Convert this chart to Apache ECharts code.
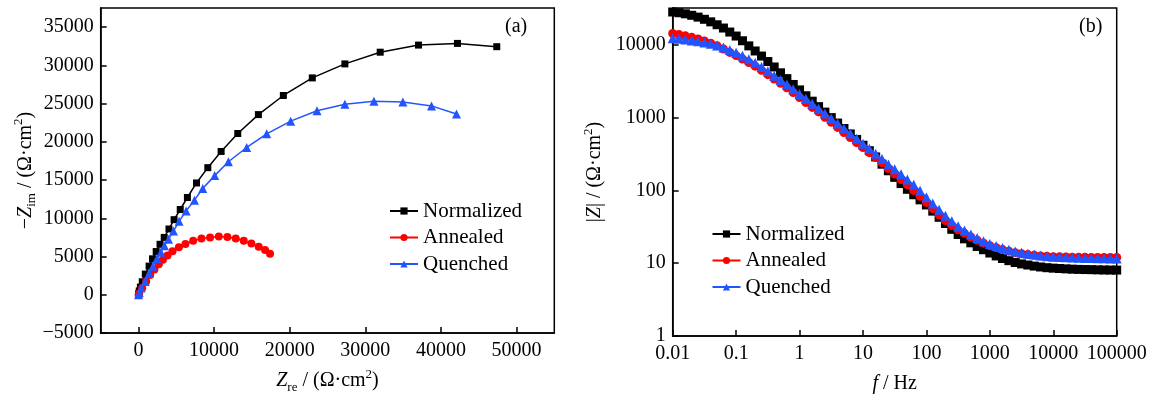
<!DOCTYPE html>
<html>
<head>
<meta charset="utf-8">
<script src="https://cdn.jsdelivr.net/npm/echarts@6/dist/echarts.min.js"></script>
<style>html,body{margin:0;padding:0;background:#fff}#c{width:1154px;height:399px}</style>
</head>
<body>
<div id="c"></div>
<script>
// ---------- Data: Nyquist (a) ----------
var seriesNames = ['Normalized', 'Annealed', 'Quenched'];
var normZre = [8, 30, 100, 250, 500, 900, 1400, 1850, 2340, 2850, 3400, 4030, 4710, 5520, 6470, 7670, 9170, 10930, 13130, 15860, 19160, 22990, 27300, 31970, 37040, 42190, 47390];
var normZim = [0, 150, 500, 1000, 1700, 2700, 3750, 4700, 5650, 6600, 7500, 8600, 9820, 11150, 12720, 14620, 16620, 18740, 21090, 23560, 26060, 28360, 30190, 31720, 32650, 32870, 32440];
var annZre = [10, 90, 490, 1020, 1550, 2110, 2690, 3220, 3840, 4500, 5340, 6210, 7230, 8330, 9470, 10620, 11760, 12860, 13920, 14930, 15900, 16740, 17400];
var annZim = [0, 170, 890, 1750, 2590, 3320, 3990, 4590, 5140, 5700, 6210, 6630, 7050, 7360, 7490, 7620, 7560, 7360, 7050, 6720, 6290, 5870, 5360];
var queZre = [10, 100, 360, 880, 1410, 1900, 2430, 2960, 3430, 3970, 4620, 5370, 6300, 7400, 8500, 10080, 11890, 14310, 16960, 20130, 23610, 27300, 31140, 34970, 38760, 42060];
var queZim = [0, 250, 890, 1750, 2810, 3740, 4720, 5570, 6420, 7270, 8330, 9600, 10970, 12370, 13900, 15580, 17390, 19260, 21050, 22700, 24070, 24920, 25300, 25210, 24700, 23640];

// ---------- Data: Bode |Z| (b) ----------
var freq = [
  0.01, 0.01259, 0.01585, 0.01995, 0.02512, 0.03162, 0.03981, 0.05012, 0.0631, 0.07943,
  0.1, 0.1259, 0.1585, 0.1995, 0.2512, 0.3162, 0.3981, 0.5012, 0.631, 0.7943,
  1, 1.259, 1.585, 1.995, 2.512, 3.162, 3.981, 5.012, 6.31, 7.943,
  10, 12.59, 15.85, 19.95, 25.12, 31.62, 39.81, 50.12, 63.1, 79.43,
  100, 125.9, 158.5, 199.5, 251.2, 316.2, 398.1, 501.2, 631, 794.3,
  1000, 1259, 1585, 1995, 2512, 3162, 3981, 5012, 6310, 7943,
  10000, 12590, 15850, 19950, 25120, 31620, 39810, 50120, 63100, 79430,
  100000];
var normZmod = [
  28200, 27540, 26610, 25410, 23990, 22390, 20650, 18840, 16980, 14960,
  13180, 11350, 9660, 8220, 7000, 5890, 4955, 4120, 3430, 2850,
  2400, 1995, 1680, 1413, 1189, 1000, 841, 708, 596, 501,
  417, 351, 288, 229, 186, 151, 124, 103.5, 87.1, 74.1,
  63.1, 51.9, 42.7, 35.1, 29.2, 24.8, 21.6, 19.05, 16.98, 15.31,
  13.8, 12.59, 11.61, 10.84, 10.23, 9.77, 9.44, 9.12, 8.87, 8.67,
  8.55, 8.45, 8.36, 8.28, 8.22, 8.18, 8.15, 8.11, 8.07, 8.05,
  8.04];
var annZmod = [
  14290, 13800, 13270, 12650, 12020, 11300, 10520, 9660, 8750, 7850,
  7110, 6380, 5710, 5080, 4470, 3890, 3390, 2965, 2570, 2213,
  1884, 1614, 1380, 1197, 1012, 861, 733, 624, 531, 452,
  387, 330, 282, 240, 200, 168, 141, 119, 100, 83.2,
  68.4, 56.2, 46.2, 38.5, 33.0, 28.7, 25.7, 22.9, 20.65, 18.84,
  17.38, 16.29, 15.38, 14.62, 13.96, 13.49, 13.12, 12.82, 12.59, 12.42,
  12.3, 12.22, 12.16, 12.11, 12.08, 12.05, 12.02, 12.02, 11.99, 11.99,
  11.97];
var queZmod = [
  12300, 12080, 11800, 11480, 11140, 10760, 10300, 9770, 9160, 8510,
  7800, 7080, 6350, 5650, 4970, 4325, 3760, 3270, 2850, 2455,
  2115, 1820, 1550, 1327, 1135, 971, 828, 708, 603, 513,
  437, 373, 318, 269, 226, 195, 166, 141, 119.4, 98.9,
  80.4, 66.1, 54.3, 44.9, 37.8, 32.2, 28.1, 24.8, 22.1, 19.95,
  18.32, 17.18, 16.22, 15.24, 14.45, 13.87, 13.49, 13.12, 12.74, 12.5,
  12.3, 12.16, 12.05, 11.94, 11.86, 11.8, 11.75, 11.69, 11.66, 11.64,
  11.61];

function pairs(xs, ys) { var out = []; for (var i = 0; i < xs.length; i++) out.push([xs[i], ys[i]]); return out; }

var FONT = "'Liberation Serif', 'Times New Roman', serif";
var colors = ['#000000', '#ff0000', '#2255ff'];
var symbols = ['rect', 'circle', 'triangle'];

function nameStyle() {
  return {
    fontFamily: FONT, fontSize: 20, color: '#000',
    rich: {
      n: { fontFamily: FONT, fontSize: 20, color: '#000', lineHeight: 24 },
      i: { fontFamily: FONT, fontSize: 20, fontStyle: 'italic', color: '#000', lineHeight: 24 },
      sub: { fontFamily: FONT, fontSize: 13, color: '#000', verticalAlign: 'bottom', lineHeight: 24, padding: [0, 0, -1, 0] },
      sup: { fontFamily: FONT, fontSize: 13, color: '#000', verticalAlign: 'top', lineHeight: 24, padding: [-1, 0, 0, 0] }
    }
  };
}
var lbl = { fontFamily: FONT, fontSize: 20, color: '#000' };
var axLine = { show: true, onZero: false, lineStyle: { color: '#000', width: 1.5 } };
var axTick = { show: true, inside: true, length: 6, lineStyle: { color: '#000', width: 1.5 } };
function plainNum(v) { return String(+Number(v).toPrecision(6)); }

var series = [];
var nyq = [pairs(normZre, normZim), pairs(annZre, annZim), pairs(queZre, queZim)];
var nyqSize = [7, 8, 9];
for (var k = 0; k < 3; k++) {
  series.push({
    name: seriesNames[k], type: 'line', xAxisIndex: 0, yAxisIndex: 0,
    data: nyq[k], symbol: symbols[k], symbolSize: nyqSize[k], showSymbol: true,
    lineStyle: { color: colors[k], width: 1.5 }, itemStyle: { color: colors[k] },
    z: 2 + k
  });
}
var bode = [pairs(freq, normZmod), pairs(freq, annZmod), pairs(freq, queZmod)];
var bodeSize = [9, 9, 10];
for (var k = 0; k < 3; k++) {
  series.push({
    name: seriesNames[k], type: 'line', xAxisIndex: 1, yAxisIndex: 1,
    data: bode[k], symbol: symbols[k], symbolSize: bodeSize[k], showSymbol: true,
    lineStyle: { color: colors[k], width: 1.5 }, itemStyle: { color: colors[k] },
    z: 2 + k
  });
}

var legendBase = {
  orient: 'vertical', itemWidth: 28, itemHeight: 9, itemGap: 4.5,
  textStyle: { fontFamily: FONT, fontSize: 21, color: '#000', lineHeight: 22 },
  data: seriesNames, selectedMode: false
};

var option = {
  animation: false,
  backgroundColor: '#fff',
  grid: [
    { left: 100.7, top: 8, width: 453.6, height: 333, show: true, borderColor: '#000', borderWidth: 1.5, containLabel: false },
    { left: 672.7, top: 8, width: 444, height: 333, show: true, borderColor: '#000', borderWidth: 1.5, containLabel: false }
  ],
  legend: [
    Object.assign({}, legendBase, { left: 384, top: 195 }),
    Object.assign({}, legendBase, { left: 706.5, top: 218 })
  ],
  xAxis: [
    {
      gridIndex: 0, type: 'value', min: -5000, max: 55000, splitNumber: 6,
      axisLine: axLine, axisTick: axTick, splitLine: { show: false },
      axisLabel: Object.assign({ margin: 8, showMinLabel: false, showMaxLabel: false, formatter: plainNum }, lbl),
      name: '{i|Z}{sub|re}{n| / (Ω·cm}{sup|2}{n|)}', nameLocation: 'middle', nameGap: 36,
      nameTextStyle: nameStyle()
    },
    {
      gridIndex: 1, type: 'log', logBase: 10, min: 0.01, max: 100000,
      axisLine: axLine, axisTick: axTick, splitLine: { show: false }, minorTick: { show: false },
      axisLabel: Object.assign({ margin: 8, formatter: plainNum }, lbl),
      name: '{i|f}{n| / Hz}', nameLocation: 'middle', nameGap: 36,
      nameTextStyle: nameStyle()
    }
  ],
  yAxis: [
    {
      gridIndex: 0, type: 'value', min: -5000, max: 37500, interval: 5000,
      axisLine: axLine, axisTick: axTick, splitLine: { show: false },
      axisLabel: Object.assign({ margin: 7, showMaxLabel: false, formatter: function (v) { return v < 0 ? '−' + String(-v) : String(v); } }, lbl),
      name: '{n|−}{i|Z}{sub|im}{n| / (Ω·cm}{sup|2}{n|)}', nameLocation: 'middle', nameGap: 60,
      nameTextStyle: nameStyle()
    },
    {
      gridIndex: 1, type: 'log', logBase: 10, min: 1, max: 32000,
      axisLine: axLine, axisTick: axTick, splitLine: { show: false }, minorTick: { show: false },
      axisLabel: Object.assign({ margin: 7, showMaxLabel: false, formatter: plainNum }, lbl),
      name: '{n||}{i|Z}{n|| / (Ω·cm}{sup|2}{n|)}', nameLocation: 'middle', nameGap: 66,
      nameTextStyle: nameStyle()
    }
  ],
  graphic: [
    { type: 'text', left: 505, top: 17, style: { text: '(a)', fontFamily: FONT, fontSize: 20, fill: '#000' } },
    { type: 'text', left: 1079, top: 17, style: { text: '(b)', fontFamily: FONT, fontSize: 20, fill: '#000' } }
  ],
  series: series
};

var chart = echarts.init(document.getElementById('c'), null, { renderer: 'canvas' });
chart.setOption(option);
</script>
</body>
</html>
